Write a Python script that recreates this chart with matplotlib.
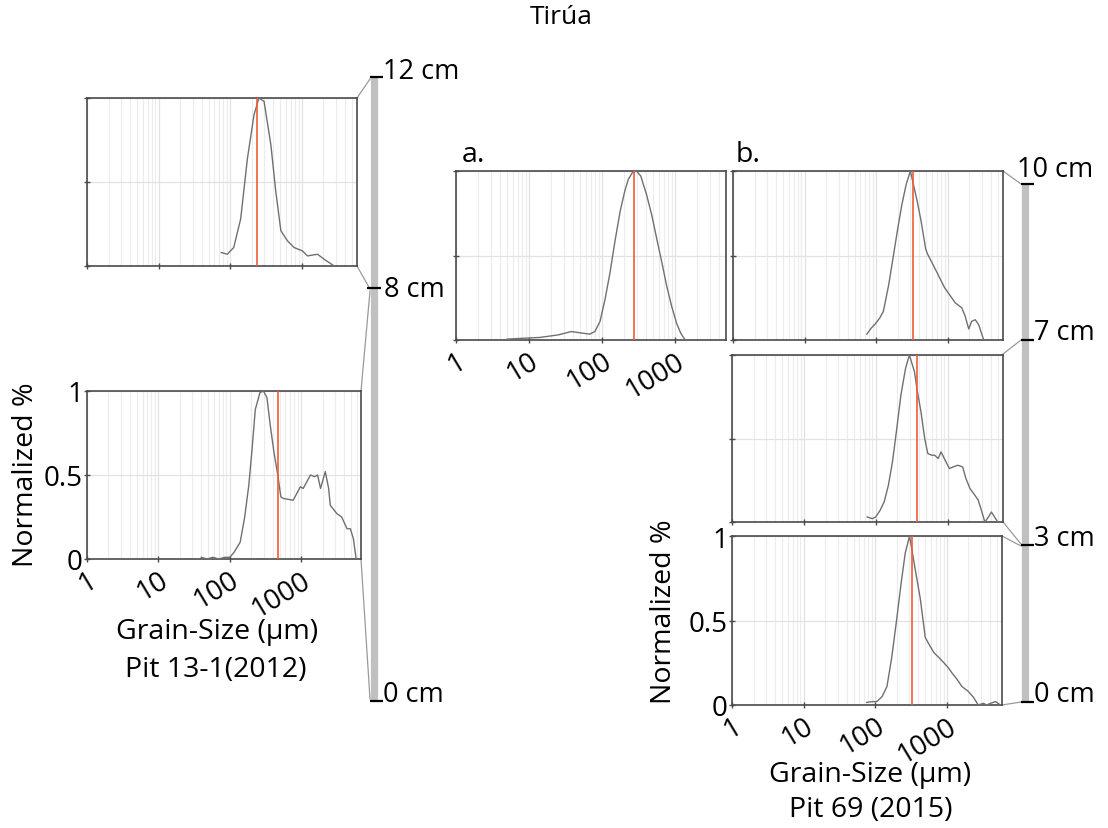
import numpy as np
import matplotlib
matplotlib.use("Agg")
import matplotlib.pyplot as plt
from matplotlib.ticker import LogLocator, NullFormatter

plt.rcParams['font.family'] = ['Open Sans', 'DejaVu Sans']

# ------------------------------------------------------------
# data (grain size in µm, normalized %)
# ------------------------------------------------------------
decade_ticks = [1, 10, 100, 1000]
decade_labels = ["1", "10", "100", "1000"]
norm_ticks = [0, 0.5, 1]
norm_labels = ["0", "0.5", "1"]

# Pit 13-1 (2012), 8-12 cm
tl_size = [75, 91, 112, 140, 174, 215, 252, 297, 370, 434, 510, 630, 780, 1020, 1200, 1660, 2050, 2840]
tl_norm = [0.08, 0.07, 0.11, 0.28, 0.64, 0.90, 1.0, 0.98, 0.72, 0.44, 0.21, 0.15, 0.11, 0.09, 0.06, 0.07, 0.04, 0.0]
tl_median = 233

# Pit 13-1 (2012), 0-8 cm
bl_size = [40, 48, 58, 70, 85, 100, 115, 140, 162, 185, 205, 228, 265, 297, 332, 371, 418, 467, 520,
           565, 775, 975, 1070, 1350, 1550, 1700, 1870, 2180, 2430, 2560, 3170, 3700, 4400, 4900, 5400, 5900]
bl_norm = [0.01, 0.0, 0.01, 0.0, 0.01, 0.01, 0.04, 0.10, 0.25, 0.44, 0.65, 0.89, 0.99, 1.0, 0.96, 0.79, 0.63, 0.51, 0.37,
           0.36, 0.35, 0.43, 0.42, 0.50, 0.49, 0.50, 0.42, 0.52, 0.42, 0.32, 0.27, 0.25, 0.18, 0.18, 0.12, 0.0]
bl_median = 467

# panel a
a_size = [5, 8, 14, 25, 38, 55, 68, 80, 94, 110, 129, 150, 177, 205, 229, 260, 297, 340, 408, 480, 562, 660, 770, 900, 1050, 1200, 1380]
a_norm = [0.005, 0.01, 0.015, 0.03, 0.05, 0.04, 0.035, 0.05, 0.11, 0.24, 0.40, 0.58, 0.76, 0.88, 0.95, 0.99, 1.0, 0.97, 0.86, 0.74, 0.60, 0.46, 0.32, 0.20, 0.10, 0.04, 0.0]
a_median = 277

# Pit 69 (2015), 7-10 cm
bt_size = [74, 85, 97, 112, 126, 150, 174, 200, 228, 262, 300, 335, 370, 425, 490, 520, 705, 900, 1270, 1570, 1750, 1960, 2150, 2420, 2700, 3170]
bt_norm = [0.035, 0.07, 0.095, 0.13, 0.17, 0.33, 0.50, 0.66, 0.80, 0.92, 1.0, 0.91, 0.83, 0.70, 0.54, 0.51, 0.40, 0.31, 0.22, 0.19, 0.14, 0.065, 0.11, 0.12, 0.09, 0.0]
bt_median = 322

# Pit 69 (2015), 3-7 cm
bm_size = [76, 90, 100, 115, 131, 150, 171, 195, 224, 260, 294, 346, 380, 426, 480, 530, 600, 660, 740, 810, 900,
           1060, 1200, 1380, 1620, 1800, 2050, 2400, 2670, 3000, 3300, 3700, 4070, 4500, 5000]
bm_norm = [0.03, 0.02, 0.03, 0.07, 0.12, 0.22, 0.36, 0.55, 0.76, 0.92, 1.0, 0.90, 0.78, 0.66, 0.50, 0.41, 0.40, 0.40, 0.38, 0.42, 0.38,
           0.32, 0.33, 0.34, 0.33, 0.26, 0.20, 0.16, 0.13, 0.06, 0.0, 0.03, 0.06, 0.03, 0.0]
bm_median = 380

# Pit 69 (2015), 0-3 cm
bb_size = [76, 90, 105, 125, 146, 170, 200, 230, 263, 302, 363, 426, 500, 580, 660, 780, 910, 1050, 1180, 1400,
           1620, 2000, 2360, 2750, 3240, 3600, 4070, 4800, 5600]
bb_norm = [0.015, 0.02, 0.02, 0.05, 0.11, 0.28, 0.51, 0.72, 0.90, 1.0, 0.80, 0.63, 0.40, 0.35, 0.31, 0.28, 0.25, 0.22, 0.19, 0.15,
           0.11, 0.08, 0.045, 0.0, 0.01, 0.0, 0.01, 0.02, 0.0]
bb_median = 330

# depth scale labels
left_depths = ["12 cm", "8 cm", "0 cm"]
right_depths = ["10 cm", "7 cm", "3 cm", "0 cm"]

# ------------------------------------------------------------
# figure
# ------------------------------------------------------------
W, H = 1108, 829
fig = plt.figure(figsize=(W / 100, H / 100), dpi=100)

# overlay in pixel coordinates for scale bars, connectors and labels
ov = fig.add_axes([0, 0, 1, 1], zorder=0)
ov.set_xlim(0, W)
ov.set_ylim(H, 0)
ov.axis('off')

FS = 20.5      # axis labels
TFS = 20       # tick labels
DFS = 19.5     # depth labels
CURVE = '#707070'
RED = '#f05a3c'
SPINE = '#4a4a4a'


def panel(x0, y0, x1, y1, sizes, norms, median, xmax, xlab=False, ylab=False):
    ax = fig.add_axes([x0 / W, 1 - y1 / H, (x1 - x0) / W, (y1 - y0) / H], zorder=2)
    ax.set_xscale('log')
    ax.set_xlim(1, xmax)
    ax.set_ylim(0, 1)
    ax.xaxis.set_minor_locator(LogLocator(base=10, subs=np.arange(2, 10)))
    ax.xaxis.set_minor_formatter(NullFormatter())
    ax.grid(which='minor', axis='x', color='#ececec', lw=0.8)
    ax.grid(which='major', axis='x', color='#e2e2e2', lw=0.9)
    ax.grid(which='major', axis='y', color='#e2e2e2', lw=0.9)
    ax.set_axisbelow(True)
    ax.set_xticks(decade_ticks)
    ax.set_yticks(norm_ticks)
    if xlab:
        ax.set_xticklabels(decade_labels, rotation=31, ha='right', va='top',
                           rotation_mode='anchor', fontsize=TFS)
    else:
        ax.set_xticklabels([])
    if ylab:
        ax.set_yticklabels(norm_labels, fontsize=TFS)
    else:
        ax.set_yticklabels([])
    ax.tick_params(which='major', direction='inout', length=4, width=1, color=SPINE, pad=3)
    ax.tick_params(axis='y', pad=1)
    ax.tick_params(which='minor', length=0)
    for s in ax.spines.values():
        s.set_color(SPINE)
        s.set_linewidth(1.2)
    ax.plot(sizes, norms, color=CURVE, lw=1.0, zorder=3)
    ax.axvline(median, color=RED, lw=1.2, zorder=4)
    return ax


panel(87, 99, 357, 267, tl_size, tl_norm, tl_median, 5900)
panel(87, 392, 361, 560, bl_size, bl_norm, bl_median, 6900, xlab=True, ylab=True)
panel(456, 172, 726, 341, a_size, a_norm, a_median, 5000, xlab=True)
panel(733, 172, 1003, 341, bt_size, bt_norm, bt_median, 5900)
panel(732, 356, 1003, 523, bm_size, bm_norm, bm_median, 5900)
panel(732, 537, 1002, 706, bb_size, bb_norm, bb_median, 5900, xlab=True, ylab=True)

# scale bars
ov.plot([373.5, 373.5], [78, 702], color='#c0c0c0', lw=5.2, solid_capstyle='butt')
ov.plot([1025, 1025], [185, 703], color='#c0c0c0', lw=5.2, solid_capstyle='butt')

# connectors from panels to the bars
conn = '#9a9a9a'
for (xa, ya), (xb, yb) in [((357, 99), (370, 80)), ((357, 267), (370, 290)),
                           ((361, 392), (370, 292)), ((361, 560), (370, 700)),
                           ((1003, 172), (1021, 185)), ((1003, 355), (1021, 341)),
                           ((1003, 523), (1021, 545)), ((1002, 537), (1021, 547)),
                           ((1002, 706), (1021, 703))]:
    ov.plot([xa, xb], [ya, yb], color=conn, lw=0.9)

# depth ticks and labels
tick_kw = dict(color='black', lw=1.6, solid_capstyle='butt')
ov.plot([370, 383], [78, 78], **tick_kw)
ov.text(383, 79, left_depths[0], fontsize=DFS, ha='left', va='baseline')
ov.plot([367, 381], [289, 289], **tick_kw)
ov.text(384, 290, left_depths[1], fontsize=DFS, ha='left', va='center')
ov.plot([370, 383], [702, 702], **tick_kw)
ov.text(383, 702, left_depths[2], fontsize=DFS, ha='left', va='baseline')

ov.plot([1021, 1034], [185, 185], **tick_kw)
ov.text(1017, 177, right_depths[0], fontsize=DFS, ha='left', va='baseline')
ov.plot([1021, 1034], [341, 341], **tick_kw)
ov.text(1034, 340, right_depths[1], fontsize=DFS, ha='left', va='baseline')
ov.plot([1021, 1034], [546, 546], **tick_kw)
ov.text(1034, 546, right_depths[2], fontsize=DFS, ha='left', va='baseline')
ov.plot([1021, 1034], [703, 703], **tick_kw)
ov.text(1034, 702, right_depths[3], fontsize=DFS, ha='left', va='baseline')

# titles and axis labels
ov.text(561, 17, "Tirúa", fontsize=19, ha='center', va='center')
ov.text(462, 162, "a.", fontsize=FS, ha='left', va='baseline')
ov.text(736, 162, "b.", fontsize=FS, ha='left', va='baseline')

ov.text(26, 475, "Normalized %", fontsize=FS, rotation=90, ha='center', va='center')
ov.text(664, 612, "Normalized %", fontsize=FS, rotation=90, ha='center', va='center')

ov.text(217, 632, "Grain-Size (µm)", fontsize=FS, ha='center', va='center')
ov.text(216, 670, "Pit 13-1(2012)", fontsize=FS, ha='center', va='center')
ov.text(870, 775, "Grain-Size (µm)", fontsize=FS, ha='center', va='center')
ov.text(871, 810, "Pit 69 (2015)", fontsize=FS, ha='center', va='center')

plt.savefig("out.png", dpi=100)
